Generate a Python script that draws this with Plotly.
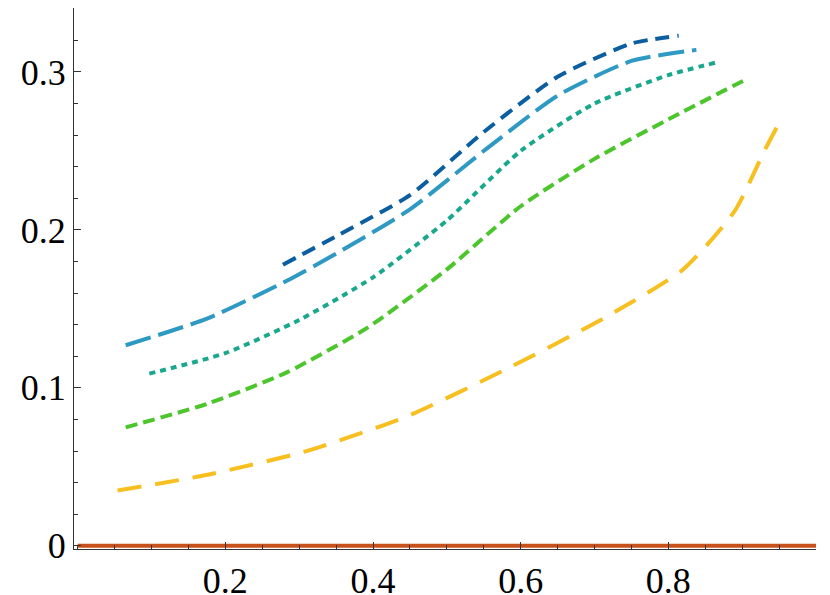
import plotly.graph_objects as go

# curve data
x_dark = [0.278, 0.35, 0.45, 0.55, 0.65, 0.75, 0.814]
y_dark = [0.178, 0.196, 0.222, 0.262, 0.297, 0.318, 0.323]

x_light = [0.065, 0.176, 0.284, 0.35, 0.45, 0.55, 0.65, 0.75, 0.838]
y_light = [0.127, 0.144, 0.168, 0.185, 0.213, 0.25, 0.285, 0.307, 0.314]

x_teal = [0.097, 0.2, 0.3, 0.4, 0.5, 0.6, 0.7, 0.8, 0.865]
y_teal = [0.109, 0.122, 0.143, 0.17, 0.206, 0.25, 0.28, 0.298, 0.306]

x_green = [0.065, 0.176, 0.284, 0.392, 0.5, 0.6, 0.7, 0.8, 0.908]
y_green = [0.075, 0.09, 0.11, 0.138, 0.175, 0.215, 0.245, 0.27, 0.296]

x_yellow = [0.054, 0.176, 0.31, 0.446, 0.581, 0.716, 0.82, 0.89, 0.93, 0.955]
y_yellow = [0.035, 0.045, 0.06, 0.082, 0.112, 0.145, 0.175, 0.212, 0.25, 0.272]

x_base = [0.0, 1.0]
y_base = [0.0, 0.0]

series = [
    (x_base, y_base, "#c8501a", "solid", 4),
    (x_yellow, y_yellow, "#f7bf1f", "24px,14px", 4),
    (x_green, y_green, "#4cc62c", "12px,6px", 4),
    (x_teal, y_teal, "#1aa88c", "6px,5px", 4),
    (x_light, y_light, "#2e9ac4", "26px,8px", 4),
    (x_dark, y_dark, "#0b5ea0", "14px,8px", 4),
]

fig = go.Figure()
for xs, ys, color, dash, w in series:
    fig.add_trace(go.Scatter(x=xs, y=ys, mode="lines",
                             line=dict(color=color, dash=dash, width=w, shape="spline", smoothing=0.6),
                             showlegend=False))

fig.update_layout(
    width=830, height=595,
    margin=dict(l=66, r=22, t=0, b=54),
    plot_bgcolor="white", paper_bgcolor="white",
    font=dict(family="Liberation Serif", size=36, color="black"),
)
fig.update_xaxes(range=[-0.005, 1.0], tickvals=[0.2, 0.4, 0.6, 0.8, 1.0], ticktext=["0.2", "0.4", "0.6", "0.8", "1.0"],
                 showgrid=False, zeroline=False, showline=True, linecolor="#333", linewidth=1,
                 ticks="inside", ticklen=7, tickcolor="#333",
                 minor=dict(dtick=0.05, ticks="inside", ticklen=4, tickcolor="#333"))
fig.update_yaxes(range=[-0.002, 0.3405], tickvals=[0, 0.1, 0.2, 0.3], ticktext=["0", "0.1", "0.2", "0.3"],
                 showgrid=False, zeroline=False, showline=True, linecolor="#333", linewidth=1,
                 ticks="inside", ticklen=7, tickcolor="#333",
                 minor=dict(dtick=0.02, ticks="inside", ticklen=4, tickcolor="#333"))

fig.write_html("out.html")
